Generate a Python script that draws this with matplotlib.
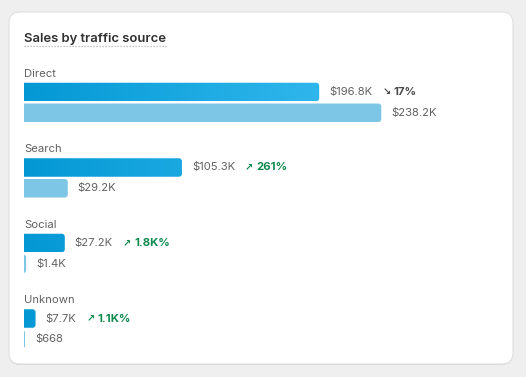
import matplotlib.pyplot as plt
from matplotlib.patches import FancyBboxPatch
from matplotlib.colors import LinearSegmentedColormap
from matplotlib.lines import Line2D
from matplotlib.transforms import IdentityTransform
import numpy as np

plt.rcParams['font.family'] = ['Inter', 'DejaVu Sans']

# sales in $K, this period vs previous period
sources = ["Direct", "Search", "Social", "Unknown"]
current = [196.8, 105.3, 27.2, 7.7]
previous = [238.2, 29.2, 1.4, 0.668]
current_labels = ["$196.8K", "$105.3K", "$27.2K", "$7.7K"]
previous_labels = ["$238.2K", "$29.2K", "$1.4K", "$668"]
changes = ["17%", "261%", "1.8K%", "1.1K%"]
change_up = [False, True, True, True]

GRAY = "#616161"
GREEN = "#0e8a4e"
DARK = "#4a4a4a"
PREV = "#7ec6e6"
grad = LinearSegmentedColormap.from_list("cur", ["#0398d4", "#2fb6ec"])

W, H = 526, 377
fig = plt.figure(figsize=(W / 100, H / 100), dpi=100, facecolor="#efefef")

# card behind everything (pixel coords)
shadow = FancyBboxPatch((9, H - 365), 504, 352, boxstyle="round,pad=0,rounding_size=11",
                        transform=IdentityTransform(), facecolor="#d6d6d6", edgecolor="none", zorder=-2)
card = FancyBboxPatch((9, H - 364), 504, 352, boxstyle="round,pad=0,rounding_size=11",
                      transform=IdentityTransform(), facecolor="white", edgecolor="#e0e0e0",
                      linewidth=0.8, zorder=-1)
fig.patches.extend([shadow, card])

title = fig.text(24 / W, 1 - 42 / H, "Sales by traffic source", fontsize=9.4, fontweight="semibold",
                 color="#303030", va="baseline")

# bar axes: 1.5 px per $K, 75.5 px per group
ax = fig.add_axes([24 / W, 22 / H, 480 / W, 295 / H])
ax.set_xlim(0, 320)
ax.set_ylim(3.4834, -0.4238)
ax.axis("off")
ax.patch.set_alpha(0)

y = np.arange(len(sources))
h = 0.245
off = 0.275
xmax = max(current)
asp = (1 / 75.5) / (1 / 1.5)


def rounded(bar, color=None):
    x0, y0 = bar.get_x(), bar.get_y()
    w, hh = bar.get_width(), bar.get_height()
    r = min(2.0, (w + 3) / 2)
    p = FancyBboxPatch((x0 - 3, y0), w + 3, hh, boxstyle=f"round,pad=0,rounding_size={r}",
                       mutation_aspect=asp, facecolor=color if color else "none",
                       edgecolor="none", zorder=2)
    ax.add_patch(p)
    bar.set_visible(False)
    return p


cur_bars = ax.barh(y, current, height=h, color="#0398d4")
prev_bars = ax.barh(y + off, previous, height=h, color=PREV)

for i, bar in enumerate(cur_bars):
    p = rounded(bar)
    w = bar.get_width()
    g = np.linspace(0, w / xmax, 128).reshape(1, -1)
    im = ax.imshow(g, cmap=grad, vmin=0, vmax=1, aspect="auto", interpolation="bicubic",
                   extent=(-3, w, y[i] + h / 2, y[i] - h / 2), zorder=2)
    im.set_clip_path(p)

for bar in prev_bars:
    rounded(bar, PREV)

ax.set_xlim(0, 320)
ax.set_ylim(3.4834, -0.4238)

for i, name in enumerate(sources):
    ax.text(0, y[i] - 0.2, name, fontsize=8.1, color=GRAY, va="baseline", ha="left")
    t = ax.annotate(current_labels[i], xy=(current[i], y[i]), xytext=(10, 0),
                    textcoords="offset pixels", fontsize=8.1, color=GRAY, va="center")
    ax.annotate(previous_labels[i], xy=(previous[i], y[i] + off), xytext=(10, 0),
                textcoords="offset pixels", fontsize=8.1, color=GRAY, va="center")
    col = GREEN if change_up[i] else DARK
    arrow = "\u2197" if change_up[i] else "\u2198"
    a = ax.annotate(arrow, xy=(1, 0.5), xycoords=t, xytext=(10, 0), textcoords="offset pixels",
                    fontsize=7, fontweight="bold", color=col, va="center",
                    family=["DejaVu Sans"])
    ax.annotate(changes[i], xy=(1, 0.5), xycoords=a, xytext=(3, 0), textcoords="offset pixels",
                fontsize=8.2, fontweight="bold", color=col, va="center")

# dotted underline below the title
fig.canvas.draw()
bb = title.get_window_extent()
fig.lines.append(Line2D([bb.x0 / W, bb.x1 / W], [1 - 46 / H, 1 - 46 / H], transform=fig.transFigure,
                        color="#b0b0b0", linewidth=0.9, linestyle=(0, (1, 1.4))))

fig.savefig("out.png", dpi=100, facecolor=fig.get_facecolor())
